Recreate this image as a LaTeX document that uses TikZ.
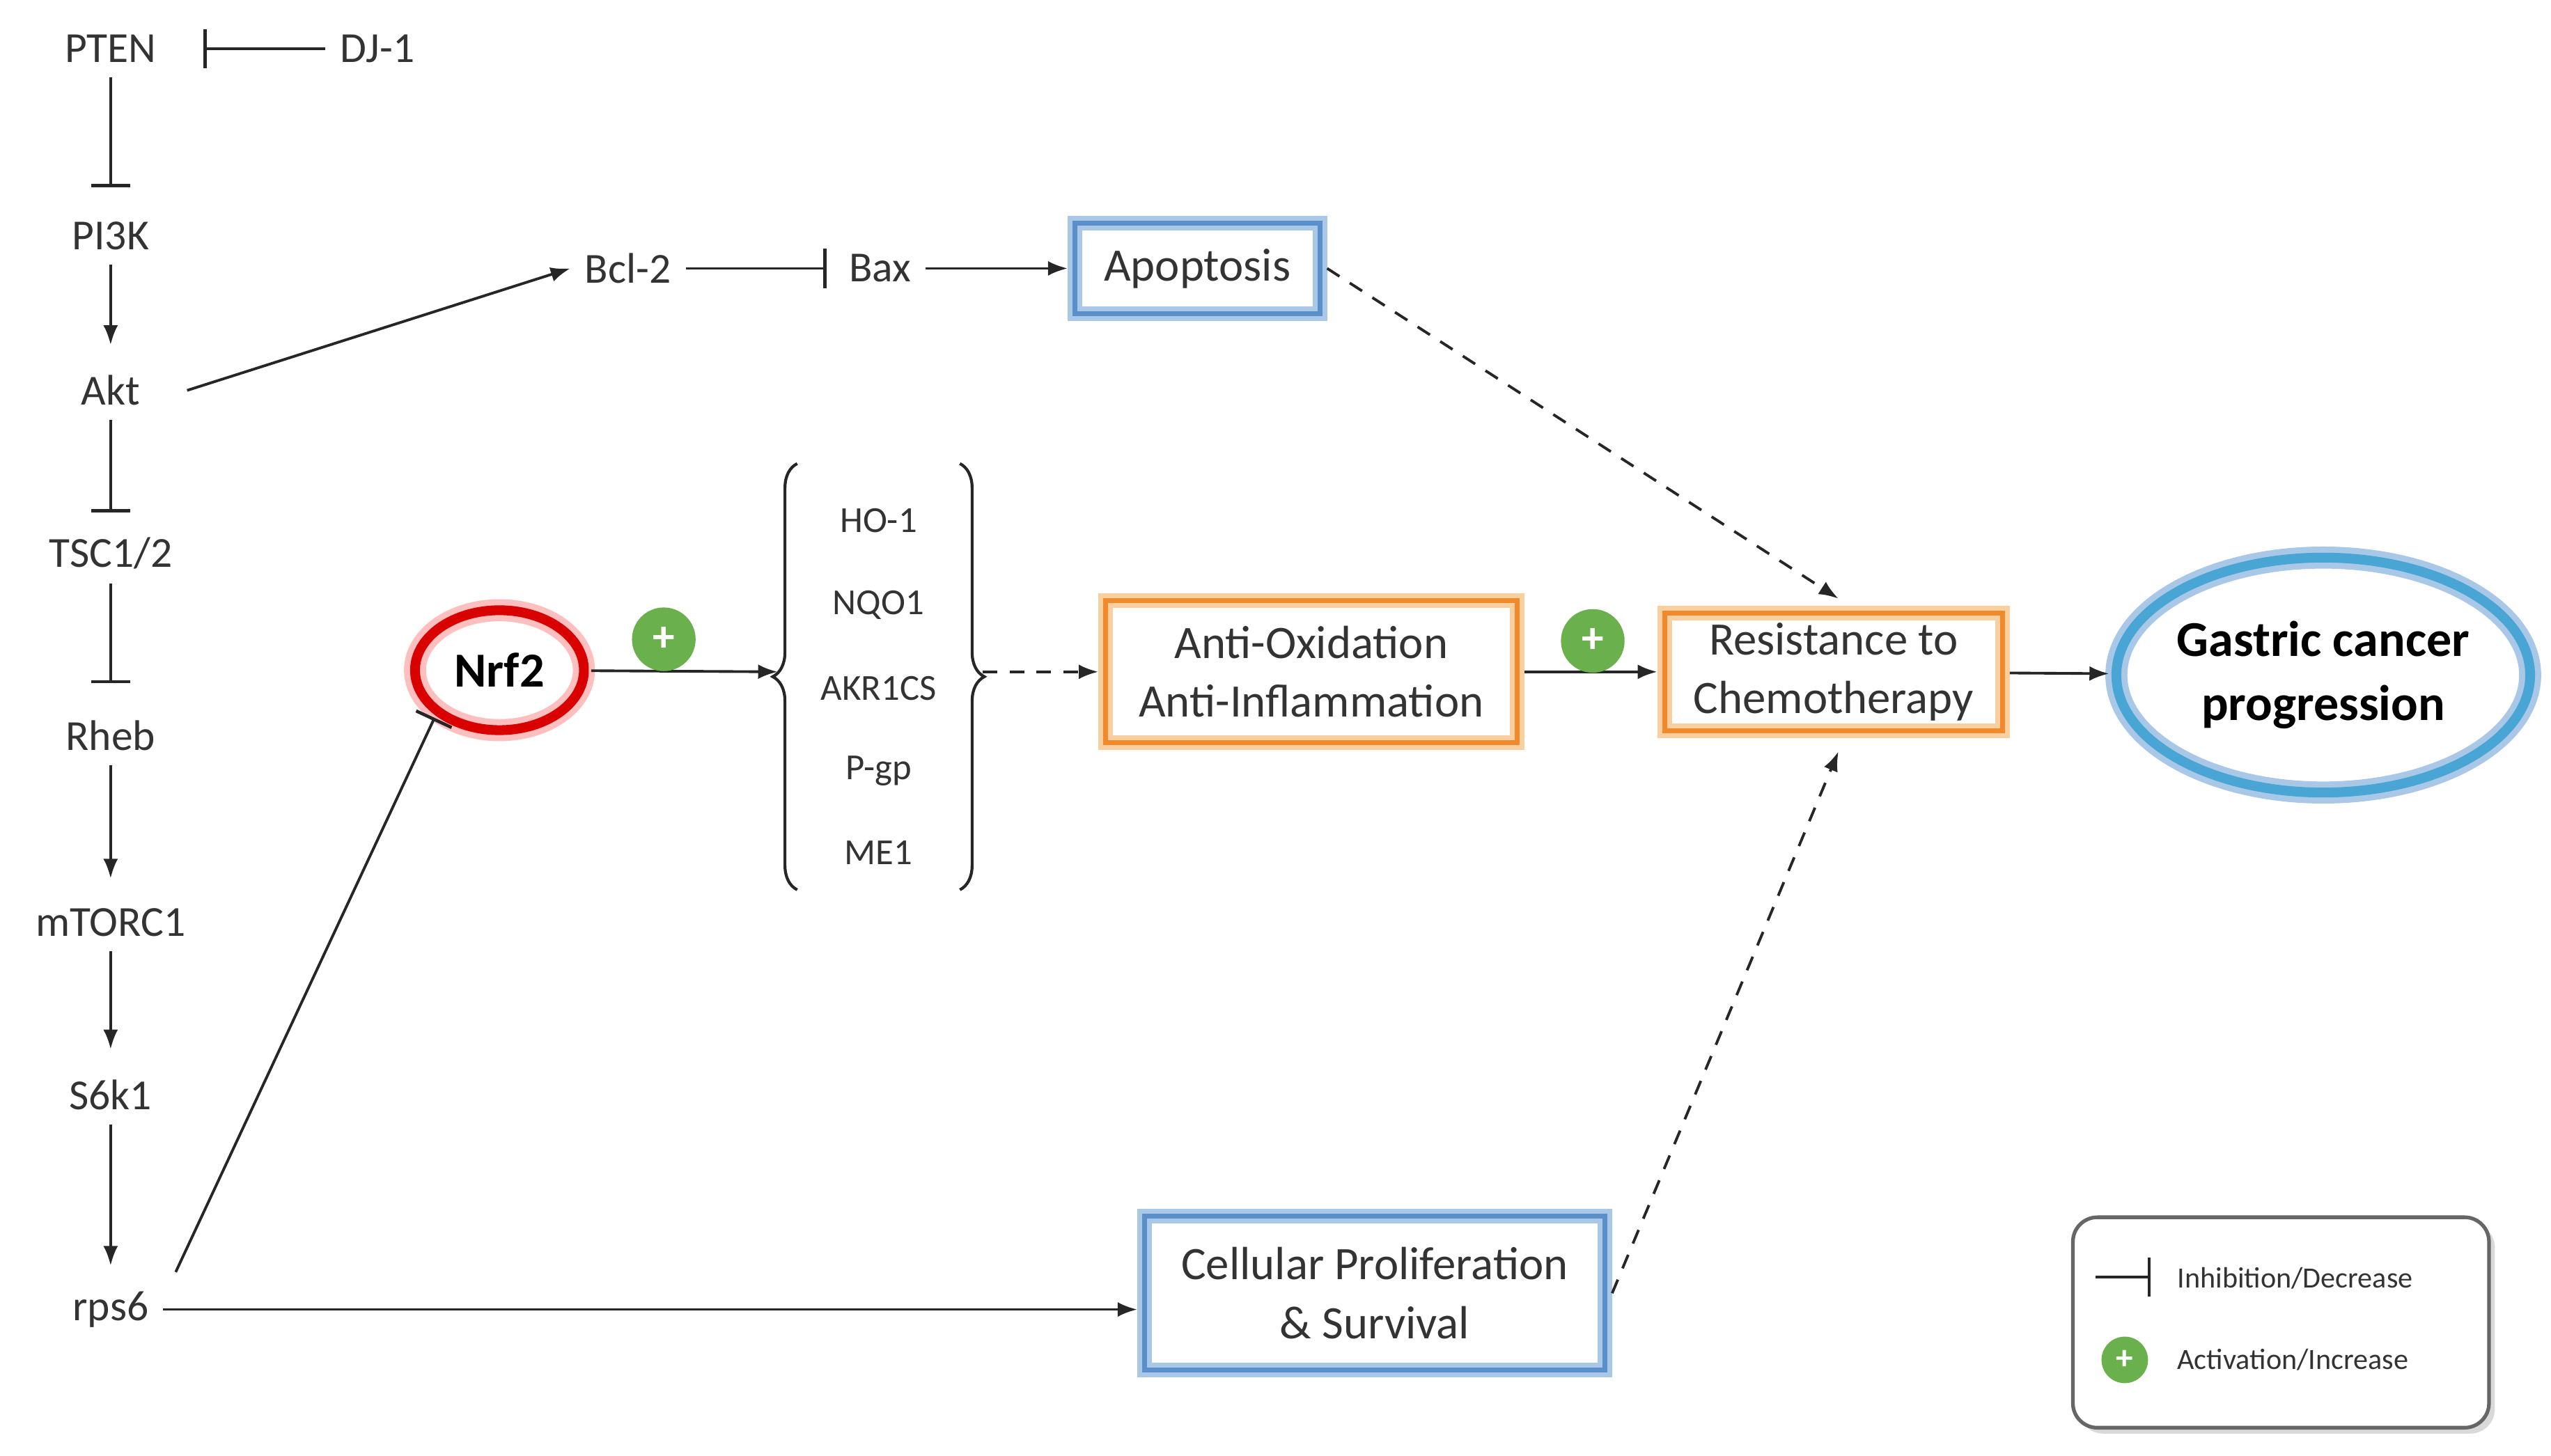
\documentclass[tikz,border=0pt]{standalone}
\usepackage{fontspec}
\setmainfont{Carlito}
\usetikzlibrary{arrows.meta,shapes.geometric,decorations.pathreplacing,shadows}
\definecolor{bl}{HTML}{5B8FC9}
\definecolor{bll}{HTML}{A9C8E8}
\definecolor{orn}{HTML}{F08A2C}
\definecolor{ornl}{HTML}{F9CFA0}
\definecolor{grn}{HTML}{6AB04C}
\definecolor{txt}{HTML}{333333}
\begin{document}
\begin{tikzpicture}[x=0.02336cm,y=-0.02336cm,
 lab/.style={font=\fontsize{17.5}{20}\selectfont,text=txt,inner sep=1pt,outer sep=5pt},
 gene/.style={font=\fontsize{15}{18}\selectfont,text=txt},
 blbox/.style={draw=bl,line width=2pt,preaction={draw=bll,line width=6pt},minimum width=#1,align=center,font=\fontsize{19}{24}\selectfont,text=txt,inner sep=2pt,outer sep=3pt},
 obox/.style={draw=orn,line width=2pt,preaction={draw=ornl,line width=6pt},minimum width=#1,align=center,font=\fontsize{19}{24}\selectfont,text=txt,inner sep=2pt,outer sep=3pt},
 act/.style={-{Latex[length=8pt,width=6pt]},line width=1.1pt,draw=black!85},
 inh/.style={-{Bar[width=16pt,line width=1.3pt]},line width=1.1pt,draw=black!85},
 dsh/.style={act,dashed,dash pattern=on 6pt off 5pt},
 plus/.style={circle,fill=grn,text=white,inner sep=0pt,minimum size=#1,font=\bfseries\fontsize{18}{18}\selectfont}
]
\useasboundingbox (0,0) rectangle (1568,895);
\node[lab] (pten) at (68,30) {PTEN};
\node[lab] (dj) at (232,30) {DJ-1};
\node[lab] (pi3k) at (68,145) {PI3K};
\node[lab] (akt) at (68,240) {Akt};
\node[lab] (tsc) at (68,340) {TSC1/2};
\node[lab] (rheb) at (68,452) {Rheb};
\node[lab] (mtor) at (68,567) {mTORC1};
\node[lab] (s6k) at (68,673) {S6k1};
\node[lab] (rps) at (68,805) {rps6};
\node[lab] (bcl) at (386,165) {Bcl-2};
\node[lab] (bax) at (541,165) {Bax};
\node[blbox=100pt,minimum height=37pt] (apo) at (736,165) {Apoptosis};
\node[draw=red!85!black,line width=4pt,preaction={draw=red!25,line width=9pt},ellipse,minimum width=69pt,minimum height=49pt,inner sep=0pt,outer sep=3pt,font=\bfseries\fontsize{20}{22}\selectfont] (nrf) at (307,412) {Nrf2};
\foreach \n/\t/\y in {g1/HO-1/320,g2/NQO1/372,g3/AKR1CS/423,g4/P-gp/474,g5/ME1/524}
  \node[gene] (\n) at (540,\y) {\t};
\coordinate (bl) at (478,413);
\coordinate (br) at (604,413);
\draw[line width=1.2pt,draw=black!85,decorate,decoration={brace,amplitude=10pt}] (490,547) -- (490,285);
\draw[line width=1.2pt,draw=black!85,decorate,decoration={brace,amplitude=10pt}] (590,285) -- (590,547);
\node[obox=168pt,minimum height=58pt] (anti) at (806,413) {Anti-Oxidation\\Anti-Inflammation};
\node[obox=138pt,minimum height=48pt] (res) at (1127,413) {Resistance to\\Chemotherapy};
\node[draw=bl!80!cyan,line width=4pt,preaction={draw=bll,line width=9pt},ellipse,minimum width=160pt,minimum height=96pt,inner sep=0pt,outer sep=3pt,align=center,font=\bfseries\fontsize{20.5}{26}\selectfont] (gas) at (1428,415) {Gastric cancer\\progression};
\node[blbox=188pt,minimum height=63pt] (pro) at (845,795) {Cellular Proliferation\\\& Survival};
\coordinate (pin) at (pro.west|-rps);
% left chain
\draw[inh] (dj) -- (125,30);
\draw[inh] (pten) -- (68,115);
\draw[act] (pi3k) -- (68,212);
\draw[inh] (akt) -- (68,315);
\draw[inh] (tsc) -- (68,420);
\draw[act] (rheb) -- (68,540);
\draw[act] (mtor) -- (68,645);
\draw[act] (s6k) -- (68,778);
\draw[act] (115,240) -- (bcl.west);
\draw[inh] (bcl) -- (508,165);
\draw[act] (bax) -- (apo);
\draw[act] (nrf) -- (bl);
\node[plus=26pt] (p1) at (408,393) {+};
\draw[dsh] (br) -- (anti);
\draw[act] (anti) -- (res);
\node[plus=26pt] (p2) at (979,394) {+};
\draw[act] (res) -- (gas);
\draw[dsh] (apo.east) -- (1130,368);
\draw[dsh] (pro.east) -- (1130,462);
\draw[act] (rps) -- (pin);
\draw[inh] (108,782) -- (nrf.south west);
% legend
\node[draw=black!60,fill=white,line width=1.5pt,rounded corners=10pt,minimum width=170pt,minimum height=86pt,drop shadow={opacity=0.3}] (leg) at (1402,813) {};
\coordinate (i1) at (1288,785);
\coordinate (i2) at (1322,785);
\draw[inh] (i1) -- (i2);
\node[plus=19pt,font=\bfseries\fontsize{14}{14}\selectfont] (p3) at (1306,836) {+};
\node[anchor=west,font=\fontsize{12}{14}\selectfont,text=txt] (l1) at (1333,786) {Inhibition/Decrease};
\node[anchor=west,font=\fontsize{12}{14}\selectfont,text=txt] (l2) at (1333,836) {Activation/Increase};
\end{tikzpicture}
\end{document}
